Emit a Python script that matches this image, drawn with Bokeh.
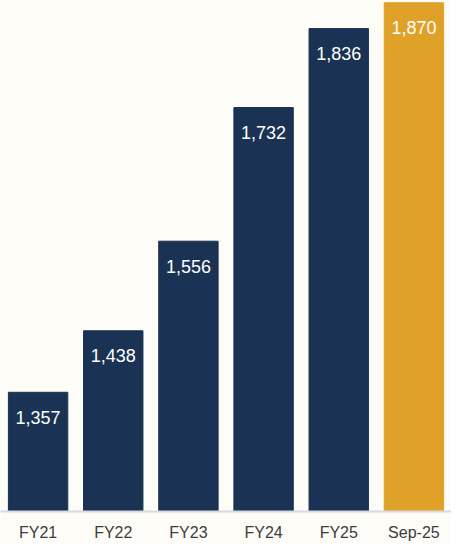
from bokeh.plotting import figure
from bokeh.models import ColumnDataSource, FactorRange, Range1d
from bokeh.core.properties import value
from bokeh.embed import file_html
from bokeh.resources import INLINE

categories = ["FY21", "FY22", "FY23", "FY24", "FY25", "Sep-25"]
values = [1357, 1438, 1556, 1732, 1836, 1870]
labels = ["1,357", "1,438", "1,556", "1,732", "1,836", "1,870"]
colors = ["#1a3253", "#1a3253", "#1a3253", "#1a3253", "#1a3253", "#e0a128"]

src = ColumnDataSource(dict(cat=categories, val=values, lab=labels, col=colors))

p = figure(width=451, height=543, x_range=FactorRange(*categories),
           y_range=Range1d(1200, 1873), output_backend="svg",
           toolbar_location=None, min_border_left=0, min_border_right=0,
           min_border_top=0, min_border_bottom=30)

p.vbar(x="cat", top="val", bottom=1200, width=0.79, color="col", source=src)
p.text(x="cat", y="val", text="lab", source=src, text_color="white",
       text_font=value("Liberation Sans"), text_font_size="18px",
       text_align="center", text_baseline="middle", y_offset=25)

p.yaxis.visible = False
p.xgrid.visible = False
p.ygrid.visible = False
p.outline_line_color = None
p.background_fill_color = "#fefcf7"
p.border_fill_color = "#fefcf7"

ax = p.xaxis[0]
ax.axis_line_color = "#d6d9e0"
ax.axis_line_width = 2
ax.major_tick_line_color = None
ax.minor_tick_line_color = None
ax.major_tick_out = 0
ax.major_tick_in = 0
ax.major_label_text_font = "Liberation Sans"
ax.major_label_text_font_size = "16px"
ax.major_label_text_color = "#3c3c3c"
ax.major_label_standoff = 12

open("out.html", "w").write(file_html(p, INLINE))
